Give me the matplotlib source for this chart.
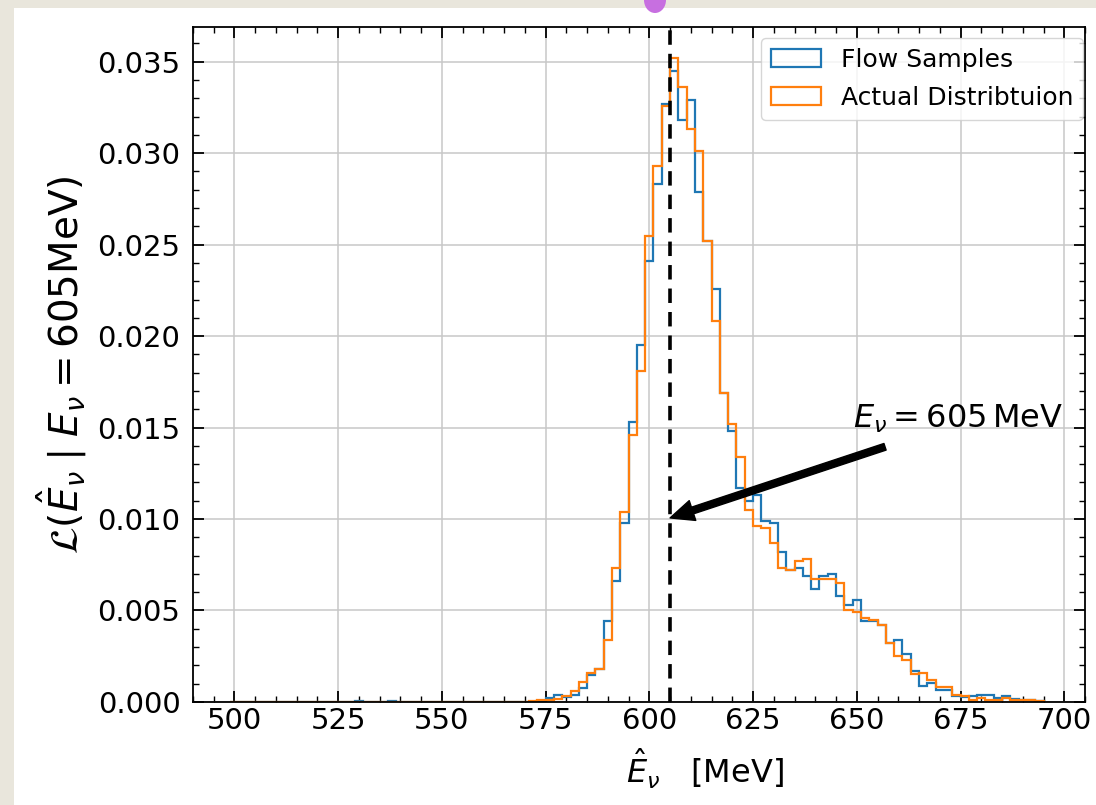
import numpy as np
import matplotlib
matplotlib.use("Agg")
from matplotlib import pyplot as plt
from matplotlib.patches import Rectangle, Ellipse


# histogram bins are 2 MeV wide, left edges of the non-empty region
bin_width = 2.0
first_left = 571.0
full_range = (499.0, 695.0)

flow_samples = [
    0.0, 0.00003, 0.0002, 0.0004, 0.00025, 0.0004, 0.00076, 0.0015, 0.0018, 0.0044,
    0.0066, 0.0098, 0.0153, 0.0195, 0.0241, 0.0283, 0.0327, 0.0345, 0.0318, 0.0329,
    0.0279, 0.0252, 0.0226, 0.0169, 0.0148, 0.0117, 0.0110, 0.0113, 0.0099, 0.0098,
    0.0082, 0.0072, 0.0073, 0.0069, 0.0062, 0.0069, 0.0070, 0.0058, 0.0053, 0.0056,
    0.0044, 0.0044, 0.0042, 0.0032, 0.0034, 0.0026, 0.0017, 0.00085, 0.00105, 0.00063,
    0.00063, 0.0003, 0.00025, 0.0003, 0.0004, 0.0004, 0.0002, 0.0003, 0.00015, 0.0001,
    0.0001, 0.00005,
]
actual_dist = [
    0.00005, 0.0001, 0.00013, 0.00015, 0.0003, 0.0006, 0.0011, 0.0016, 0.0018, 0.0034,
    0.0073, 0.0104, 0.0146, 0.0181, 0.0255, 0.0293, 0.0326, 0.0352, 0.0336, 0.0313,
    0.0301, 0.0252, 0.0208, 0.0169, 0.0152, 0.0134, 0.0105, 0.0096, 0.0095, 0.0087,
    0.0073, 0.0072, 0.0077, 0.0078, 0.0067, 0.0067, 0.0067, 0.0065, 0.0050, 0.0049,
    0.0046, 0.0045, 0.0042, 0.0032, 0.0025, 0.0023, 0.00155, 0.0016, 0.0012, 0.0008,
    0.0008, 0.0004, 0.0003, 0.00013, 0.0002, 0.00013, 0.00013, 0.0002, 0.0001, 0.00008,
    0.0001, 0.00005,
]
# a couple of lonely flow samples far in the left tail
flow_outliers = {529.0: 0.00005, 537.0: 0.00005}

true_energy = 605
labels = ["Flow Samples", "Actual Distribtuion"]


def full_counts(values, extra=None):
    edges = np.arange(full_range[0], full_range[1] + bin_width / 2, bin_width)
    counts = np.zeros(len(edges) - 1)
    start = int(round((first_left - full_range[0]) / bin_width))
    counts[start:start + len(values)] = values
    if extra:
        for left, v in extra.items():
            counts[int(round((left - full_range[0]) / bin_width))] = v
    return edges, counts


def main():
    plt.rcParams["font.family"] = "DejaVu Sans"
    plt.rcParams["mathtext.fontset"] = "dejavusans"

    fig = plt.figure(figsize=(10.96, 8.05), dpi=100, facecolor="#e9e6dc")
    # white page area of the screenshot
    fig.add_artist(Rectangle((14 / 1096, 0), 1, 1 - 8 / 805,
                             transform=fig.transFigure, facecolor="white",
                             edgecolor="none", zorder=-1))
    fig.add_artist(Ellipse((655 / 1096, 1.0), 22 / 1096, 26 / 805,
                           transform=fig.transFigure, facecolor="#c76fe0",
                           edgecolor="none"))

    ax = fig.add_axes([0.176, 0.128, 0.814, 0.8385])

    edges, blue = full_counts(flow_samples, flow_outliers)
    _, orange = full_counts(actual_dist)
    ax.hist(edges[:-1], bins=edges, weights=blue, histtype="step",
            color="tab:blue", linewidth=1.6, label=labels[0])
    ax.hist(edges[:-1], bins=edges, weights=orange, histtype="step",
            color="tab:orange", linewidth=1.6, label=labels[1])

    ax.axvline(true_energy, color="black", linestyle="--", linewidth=2.6,
               dashes=(4, 2.5))

    # arrow and its label are placed separately
    ax.annotate("", xy=(true_energy, 0.01006), xytext=(656.8, 0.01395),
                arrowprops=dict(facecolor="black", edgecolor="black",
                                width=5.0, headwidth=15, headlength=17))
    ax.text(674.5, 0.0155, r"$E_\nu = 605\,$MeV", ha="center", va="center",
            fontsize=23)

    ax.set_xlim(490, 705)
    ax.set_ylim(0, 0.0369)
    ax.set_xticks(np.arange(500, 701, 25))
    ax.set_yticks(np.arange(0, 0.0351, 0.005))
    ax.set_yticklabels(["%.3f" % v for v in np.arange(0, 0.0351, 0.005)])
    ax.xaxis.set_minor_locator(matplotlib.ticker.MultipleLocator(5))
    ax.yaxis.set_minor_locator(matplotlib.ticker.MultipleLocator(0.001))
    ax.tick_params(which="both", direction="in", top=True, right=True,
                   labelsize=21)
    ax.tick_params(axis="y", which="major", pad=9)
    ax.tick_params(which="major", length=8, width=1.3)
    ax.tick_params(which="minor", length=4, width=1.0)
    for s in ax.spines.values():
        s.set_linewidth(1.3)
    ax.grid(True, which="major", color="#c8c8c8", linewidth=1.1)
    ax.set_axisbelow(True)

    ax.set_ylabel(r"$\mathcal{L}(\hat{E}_\nu \mid E_\nu = 605\mathrm{MeV})$",
                  fontsize=28, labelpad=6)
    ax.set_xlabel(r"$\hat{E}_\nu$   [MeV]", fontsize=23)
    ax.xaxis.set_label_coords(0.574, -0.066)

    ax.legend(loc="upper right", bbox_to_anchor=(0.998, 0.984),
              borderaxespad=0, fontsize=18, framealpha=0.8,
              labelspacing=0.55)

    fig.savefig("out.png", dpi=100, facecolor=fig.get_facecolor())


if __name__ == "__main__":
    main()
